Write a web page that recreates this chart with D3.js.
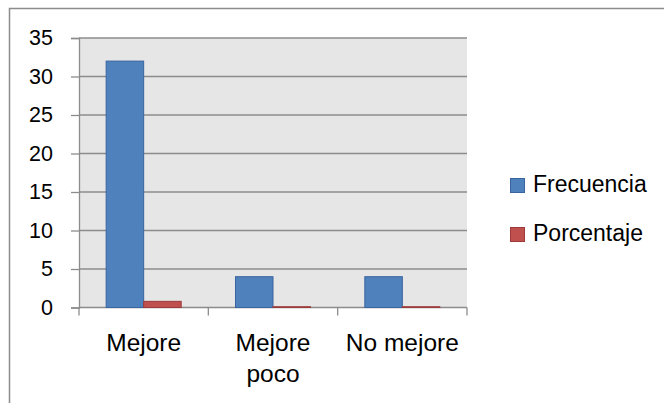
<!DOCTYPE html>
<html>
<head>
<meta charset="utf-8">
<script src="https://cdn.jsdelivr.net/npm/d3@7"></script>
<style>
  body { margin: 0; background: #fff; }
  svg { display: block; font-family: "Liberation Sans", Arial, sans-serif; }
</style>
</head>
<body>
<div id="chart"></div>
<script>
var categories = [["Mejore"], ["Mejore", "poco"], ["No mejore"]];
var seriesNames = ["Frecuencia", "Porcentaje"];
var frecuencia = [32, 4, 4];
var porcentaje = [0.8, 0.1, 0.1];
var yTicks = [0, 5, 10, 15, 20, 25, 30, 35];

var fills = ["#4F81BD", "#C0504D"];
var strokes = ["#3A64A0", "#9C3B39"];

var W = 664, H = 403;
var margin = {top: 38, left: 79, right: 197, bottom: 95.5};

var svg = d3.select("#chart").append("svg")
    .attr("width", W).attr("height", H);

// outer chart frame
svg.append("rect")
    .attr("x", 9.5).attr("y", 8.5)
    .attr("width", W + 20).attr("height", H + 20)
    .attr("fill", "#fff").attr("stroke", "#8C8C8C").attr("stroke-width", 1.5);

var x0 = d3.scaleBand()
    .domain(d3.range(categories.length))
    .range([margin.left, W - margin.right]);

var x1 = d3.scaleBand()
    .domain(seriesNames)
    .range([0, x0.bandwidth()])
    .paddingOuter(0.724);

var y = d3.scaleLinear()
    .domain([0, 35])
    .range([H - margin.bottom, margin.top]);

// plot background
svg.append("rect")
    .attr("x", margin.left).attr("y", margin.top)
    .attr("width", x0.range()[1] - margin.left)
    .attr("height", y(0) - margin.top)
    .attr("fill", "#E6E6E6");

// gridlines
svg.selectAll(".grid")
    .data(yTicks)
    .enter().append("line")
    .attr("x1", margin.left).attr("x2", x0.range()[1])
    .attr("y1", function(d) { return y(d); })
    .attr("y2", function(d) { return y(d); })
    .attr("stroke", "#8C8C8C").attr("stroke-width", 1.3);

// y axis
var yAxis = svg.append("g")
    .attr("transform", "translate(" + margin.left + ",0)")
    .call(d3.axisLeft(y).tickValues(yTicks).tickSize(8).tickPadding(18));
yAxis.select(".domain").attr("stroke", "#8C8C8C").attr("stroke-width", 1.3);
yAxis.selectAll(".tick line").attr("stroke", "#8C8C8C").attr("stroke-width", 1.3);
yAxis.selectAll(".tick text")
    .attr("fill", "#000")
    .style("font-size", "21.5px");

// x axis ticks (category boundaries)
var bounds = d3.range(categories.length + 1).map(function(i) {
    return i < categories.length ? x0(i) : x0.range()[1];
});
svg.selectAll(".xtick")
    .data(bounds)
    .enter().append("line")
    .attr("x1", function(d) { return d; })
    .attr("x2", function(d) { return d; })
    .attr("y1", y(0)).attr("y2", y(0) + 8)
    .attr("stroke", "#8C8C8C").attr("stroke-width", 1.3);

// bars
var rows = categories.map(function(c, i) {
    return [
        {name: "Frecuencia", value: frecuencia[i], s: 0},
        {name: "Porcentaje", value: porcentaje[i], s: 1}
    ];
});

svg.selectAll(".group")
    .data(rows)
    .enter().append("g")
    .attr("transform", function(d, i) { return "translate(" + x0(i) + ",0)"; })
    .selectAll("rect")
    .data(function(d) { return d; })
    .enter().append("rect")
    .attr("x", function(d) { return x1(d.name); })
    .attr("width", x1.bandwidth())
    .attr("y", function(d) { return y(d.value); })
    .attr("height", function(d) { return y(0) - y(d.value); })
    .attr("fill", function(d) { return fills[d.s]; })
    .attr("stroke", function(d) { return strokes[d.s]; })
    .attr("stroke-width", 1);

// category labels
svg.selectAll(".xlabel")
    .data(categories)
    .enter().append("text")
    .attr("text-anchor", "middle")
    .attr("x", function(d, i) { return x0(i) + x0.bandwidth() / 2; })
    .attr("y", 350.5)
    .style("font-size", "24.5px")
    .attr("fill", "#000")
    .selectAll("tspan")
    .data(function(d) { return d; })
    .enter().append("tspan")
    .attr("x", function() { return d3.select(this.parentNode).attr("x"); })
    .attr("dy", function(d, i) { return i === 0 ? 0 : 31; })
    .text(function(d) { return d; });

// legend
var legend = svg.selectAll(".legend")
    .data(seriesNames)
    .enter().append("g")
    .attr("transform", function(d, i) { return "translate(510," + (178 + i * 49) + ")"; });

legend.append("rect")
    .attr("x", 0.5).attr("y", 0.5)
    .attr("width", 14).attr("height", 14)
    .attr("fill", function(d, i) { return fills[i]; })
    .attr("stroke", function(d, i) { return strokes[i]; });

legend.append("text")
    .attr("x", 23).attr("y", 14)
    .style("font-size", "23px")
    .attr("fill", "#000")
    .text(function(d) { return d; });
</script>
</body>
</html>
